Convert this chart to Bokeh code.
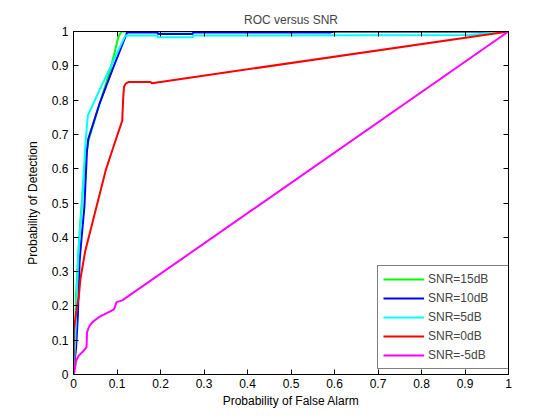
from bokeh.plotting import figure
from bokeh.models import Legend, LegendItem, LinearAxis, FixedTicker, Range1d, CustomLabelingPolicy
from bokeh.embed import file_html
from bokeh.resources import INLINE

# ---- data ----
pfa_15 = [0, 0.002, 0.004, 0.006, 0.010, 0.016, 0.022, 0.028, 0.034, 0.060, 0.085, 0.103, 0.110, 0.5, 1.0]
pd_15 = [0, 0.07, 0.15, 0.235, 0.33, 0.45, 0.55, 0.63, 0.68, 0.79, 0.89, 0.983, 1.0, 1.0, 1.0]

pfa_10 = [0, 0.003, 0.006, 0.010, 0.014, 0.018, 0.025, 0.031, 0.034, 0.060, 0.090, 0.123, 0.193, 0.194,
          0.274, 0.275, 0.59, 0.60, 1.0]
pd_10 = [0, 0.04, 0.08, 0.17, 0.33, 0.39, 0.488, 0.653, 0.687, 0.79, 0.89, 0.997, 0.997, 0.993,
         0.993, 0.997, 0.997, 1.0, 1.0]

pfa_5 = [0, 0.002, 0.004, 0.008, 0.0115, 0.015, 0.019, 0.024, 0.027, 0.029, 0.033, 0.060, 0.090, 0.119,
         0.193, 0.194, 0.274, 0.275, 0.91, 1.0]
pd_5 = [0, 0.05, 0.10, 0.25, 0.36, 0.42, 0.488, 0.60, 0.663, 0.697, 0.755, 0.83, 0.91, 0.988,
        0.988, 0.983, 0.983, 0.988, 0.99, 1.0]

pfa_0 = [0, 0.001, 0.007, 0.012, 0.016, 0.027, 0.047, 0.074, 0.089, 0.112, 0.114, 0.116, 0.120, 0.127,
         0.177, 0.180, 0.200, 1.0]
pd_0 = [0, 0.13, 0.19, 0.225, 0.28, 0.36, 0.46, 0.595, 0.653, 0.74, 0.80, 0.838, 0.848, 0.853,
        0.853, 0.849, 0.853, 1.0]

pfa_m5 = [0, 0.002, 0.006, 0.012, 0.024, 0.030, 0.031, 0.036, 0.043, 0.058, 0.081, 0.093, 0.099, 0.112, 1.0]
pd_m5 = [0, 0.007, 0.04, 0.055, 0.07, 0.08, 0.123, 0.14, 0.152, 0.167, 0.182, 0.19, 0.211, 0.216, 1.0]

series_labels = ["SNR=15dB", "SNR=10dB", "SNR=5dB", "SNR=0dB", "SNR=-5dB"]
series_colors = ["#00ff00", "#0000ff", "#00ffff", "#ff0000", "#ff00ff"]

ticks = [0, 0.1, 0.2, 0.3, 0.4, 0.5, 0.6, 0.7, 0.8, 0.9, 1]
tick_labels = ["0", "0.1", "0.2", "0.3", "0.4", "0.5", "0.6", "0.7", "0.8", "0.9", "1"]

FONT = "Liberation Sans"
FS = "12px"

p = figure(width=552, height=412, output_backend="svg", toolbar_location=None,
           x_range=Range1d(0, 1), y_range=Range1d(0, 1),
           min_border_left=73, min_border_right=44, min_border_top=31, min_border_bottom=38,
           x_axis_label="Probability of False Alarm", y_axis_label="Probability of Detection",
           title="ROC versus SNR")
p.background_fill_color = "white"
p.border_fill_color = "white"
p.outline_line_color = "black"
p.outline_line_width = 1
p.grid.visible = False

p.title.text_font = FONT
p.title.text_font_size = FS
p.title.text_font_style = "normal"
p.title.align = "center"
p.title.standoff = 9

overrides = {t: l for t, l in zip(ticks, tick_labels)}

for ax in (p.xaxis[0], p.yaxis[0]):
    ax.ticker = FixedTicker(ticks=ticks)
    ax.major_label_overrides = overrides
    ax.minor_tick_line_color = None
    ax.major_tick_in = 5
    ax.major_tick_out = 0
    ax.axis_line_color = "black"
    ax.major_tick_line_color = "black"
    ax.major_label_text_font = FONT
    ax.major_label_text_font_size = FS
    ax.major_label_text_color = "black"
    ax.axis_label_text_font = FONT
    ax.axis_label_text_font_size = FS
    ax.axis_label_text_font_style = "normal"
    ax.axis_label_text_color = "black"
p.xaxis[0].major_label_standoff = 4
p.xaxis[0].axis_label_standoff = 3
p.yaxis[0].major_label_standoff = 5
p.yaxis[0].axis_label_standoff = 9

hide_all = CustomLabelingPolicy(code="return new indices.constructor(indices.size)")
for loc in ("right", "above"):
    ax = LinearAxis(ticker=FixedTicker(ticks=ticks), major_label_policy=hide_all)
    ax.major_label_text_font_size = "0px"
    ax.major_label_standoff = 0
    ax.minor_tick_line_color = None
    ax.major_tick_in = 5
    ax.major_tick_out = 0
    ax.axis_line_color = "black"
    p.add_layout(ax, loc)

xs = [pfa_15, pfa_10, pfa_5, pfa_0, pfa_m5]
ys = [pd_15, pd_10, pd_5, pd_0, pd_m5]
renderers = []
for x, y, c in zip(xs, ys, series_colors):
    renderers.append(p.line(x, y, line_color=c, line_width=2))

legend = Legend(items=[LegendItem(label=l, renderers=[r]) for l, r in zip(series_labels, renderers)],
                location=(304, 5))
legend.border_line_color = "black"
legend.border_line_width = 1
legend.background_fill_color = "white"
legend.background_fill_alpha = 1
legend.label_text_font = FONT
legend.label_text_font_size = FS
legend.glyph_width = 41
legend.glyph_height = 16
legend.label_height = 16
legend.label_width = 75
legend.label_standoff = 4
legend.padding = 5
legend.spacing = 3
legend.margin = 0
p.add_layout(legend, "center")

open("out.html", "w").write(file_html(p, INLINE))
